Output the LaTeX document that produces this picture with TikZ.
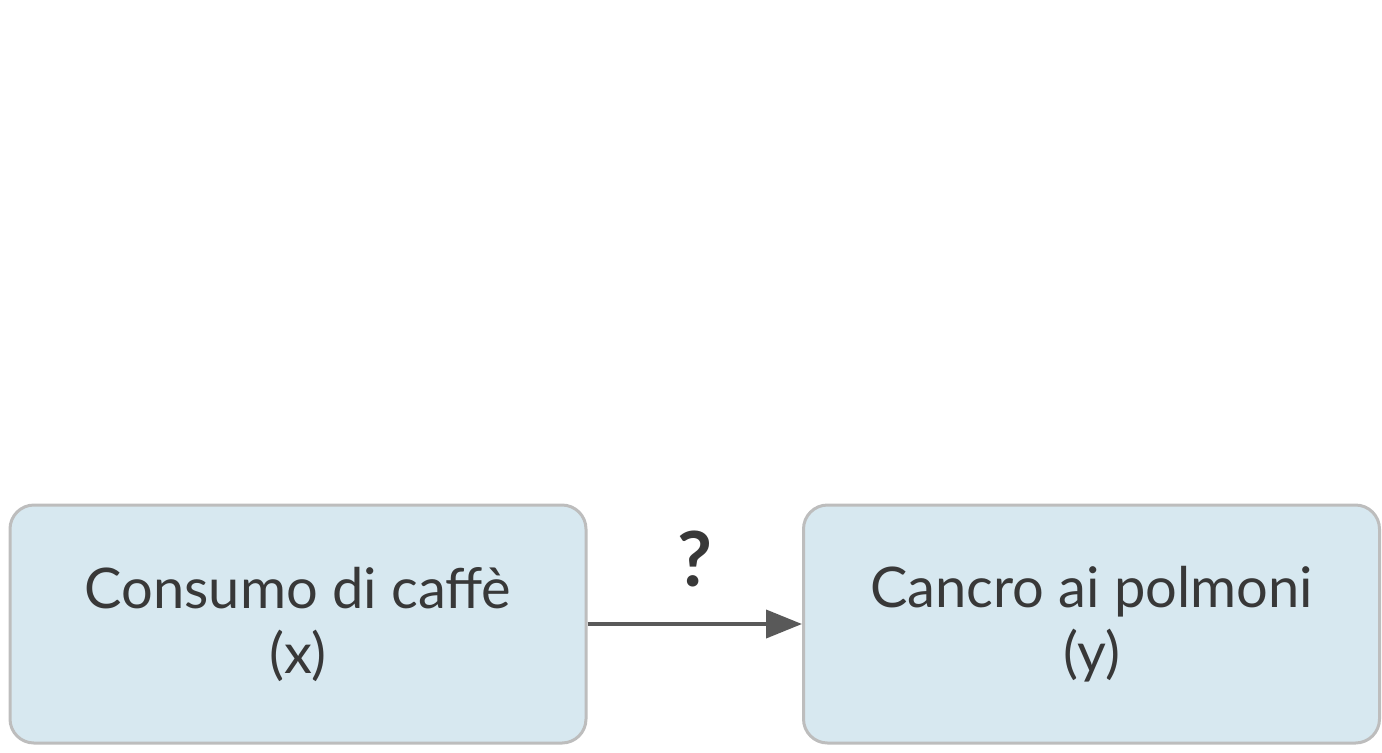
\documentclass[tikz,border=0pt]{standalone}
\usepackage{fontspec}
\setmainfont{Lato}
\usetikzlibrary{arrows.meta}
\definecolor{boxfill}{HTML}{D7E8F0}
\definecolor{boxline}{HTML}{BDBDBD}
\definecolor{txt}{HTML}{383838}
\definecolor{arr}{HTML}{595959}
\begin{document}
\begin{tikzpicture}[x=0.5pt,y=-0.5pt,
  box/.style={draw=boxline,line width=1.5pt,fill=boxfill,rounded corners=12pt,
    minimum width=288pt,minimum height=119pt,align=center,text=txt,
    font=\fontsize{28}{32.5}\selectfont,inner sep=0pt}]
\useasboundingbox (0,0) rectangle (1382,752);
\node[box] (x) at (298,624) {Consumo di caffè\\(x)};
\node[box] (y) at (1091.5,624) {Cancro ai polmoni\\(y)};
\draw[arr,line width=2pt,-{Triangle[length=18pt,width=14pt]}] (x) -- (y)
  node[midway,above=14pt,text=txt,font=\fontsize{38}{40}\selectfont\bfseries] (q) {?};
\end{tikzpicture}
\end{document}
